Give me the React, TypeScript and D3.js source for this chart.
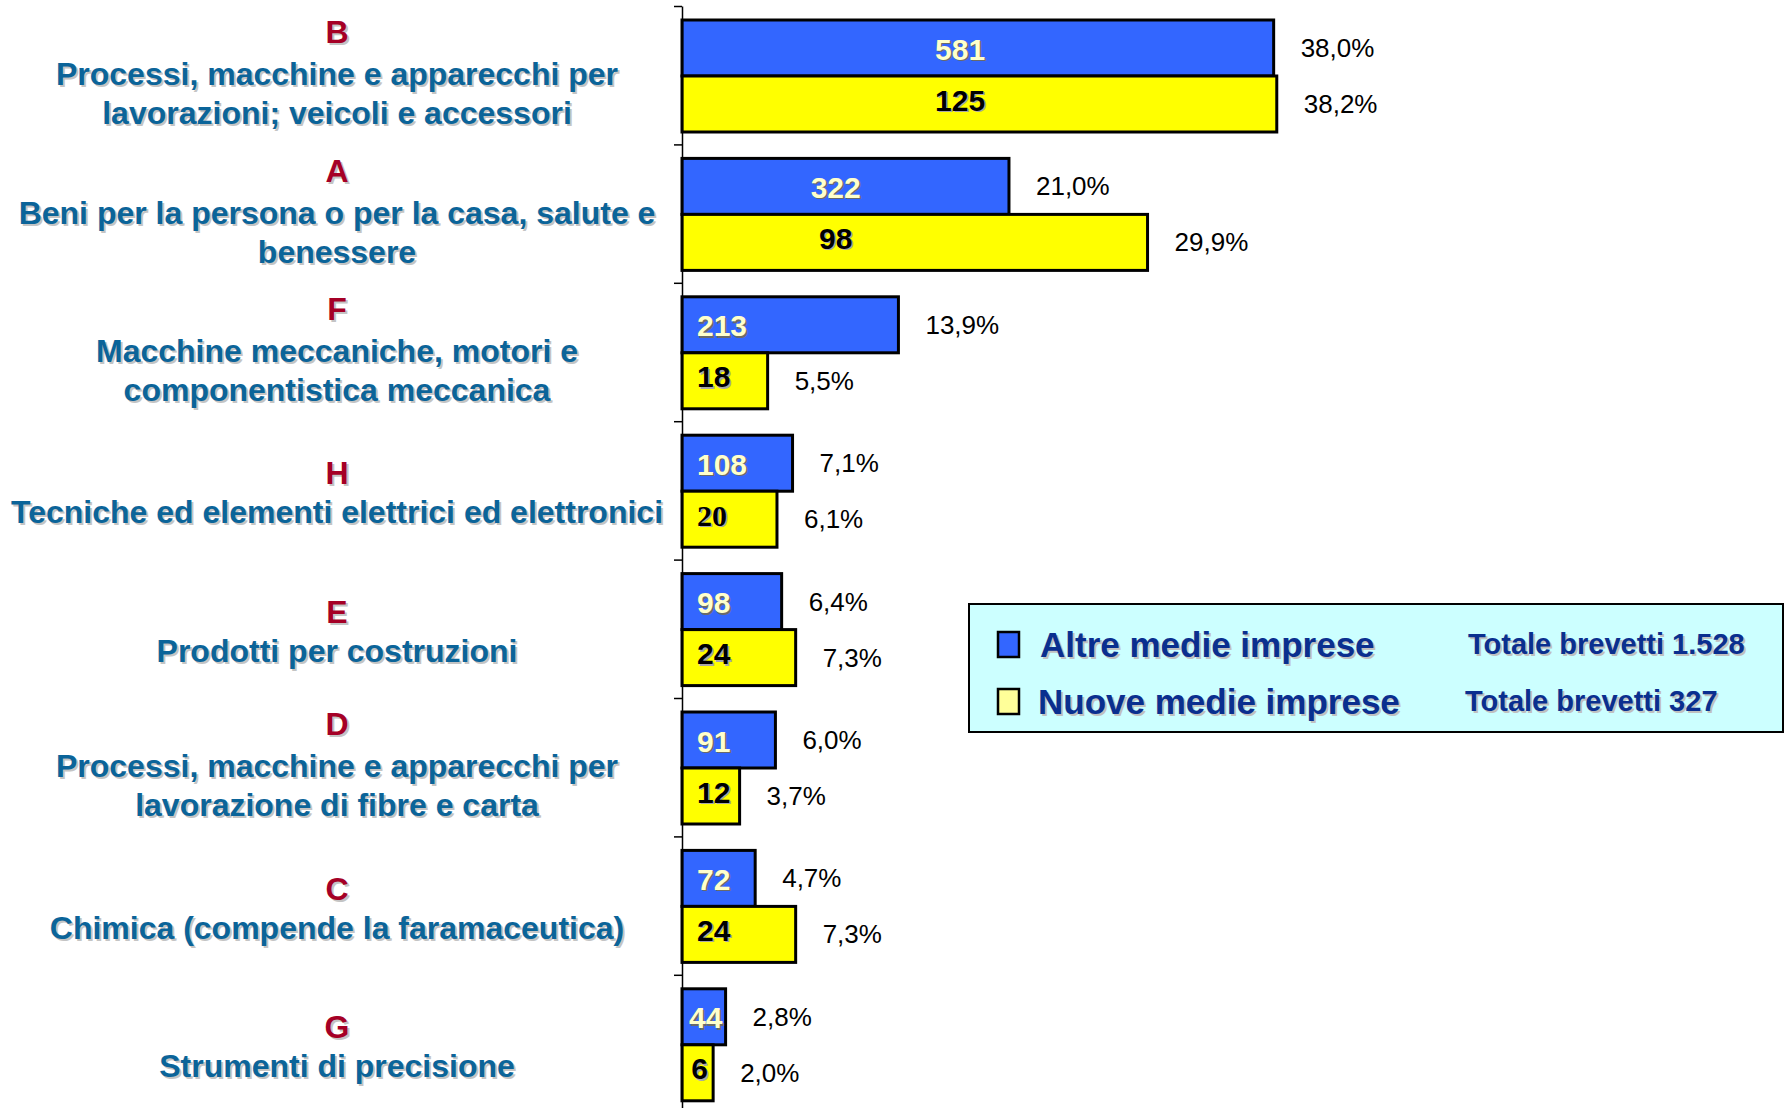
import React, { useEffect, useRef } from 'react';
import * as d3 from 'd3';

const categories = ['B', 'A', 'F', 'H', 'E', 'D', 'C', 'G'];
const categoryTitles = [
  ['Processi, macchine e apparecchi per', 'lavorazioni; veicoli e accessori'],
  ['Beni per la persona o per la casa, salute e', 'benessere'],
  ['Macchine meccaniche, motori e', 'componentistica meccanica'],
  ['Tecniche ed elementi elettrici ed elettronici'],
  ['Prodotti per costruzioni'],
  ['Processi, macchine e apparecchi per', 'lavorazione di fibre e carta'],
  ['Chimica (compende la faramaceutica)'],
  ['Strumenti di precisione'],
];
const altreCounts = [581, 322, 213, 108, 98, 91, 72, 44];
const altrePercent = [38.0, 21.0, 13.9, 7.1, 6.4, 6.0, 4.7, 2.8];
const nuoveCounts = [125, 98, 18, 20, 24, 12, 24, 6];
const nuovePercent = [38.2, 29.9, 5.5, 6.1, 7.3, 3.7, 7.3, 2.0];
const seriesKeys = ['altre', 'nuove'];
const seriesNames = ['Altre medie imprese', 'Nuove medie imprese'];
const seriesTotals = ['Totale brevetti 1.528', 'Totale brevetti 327'];

const W = 1785;
const H = 1108;
const BLUE = '#3366FF';
const YELLOW = '#FFFF00';
const SANS = '"Liberation Sans", Arial, sans-serif';
const SERIF = '"Liberation Serif", "Times New Roman", serif';

const fmtPct = (v: number) => d3.format('.1f')(v).replace('.', ',') + '%';

export default function App() {
  const axisRef = useRef<SVGGElement>(null);

  const x = d3.scaleLinear().domain([0, 40]).range([682, 682 + 40 * 15.57]);
  const y = d3.scaleBand<string>().domain(categories).range([6, 6 + 8 * 138.4]);
  const inner = d3.scaleBand<string>().domain(seriesKeys).range([14, 126]);
  const idx = d3.scaleLinear().domain([0, categories.length]).range(y.range() as [number, number]);

  useEffect(() => {
    if (!axisRef.current) return;
    const axis = d3
      .axisLeft(idx)
      .tickValues(d3.range(categories.length + 1))
      .tickSize(8)
      .tickSizeOuter(0)
      .tickFormat(() => '');
    const g = d3.select(axisRef.current);
    g.call(axis as any);
    g.selectAll('path,line').attr('stroke', '#000').attr('stroke-width', 1.5);
  }, []);

  const rows = categories.map((c, i) => ({
    cat: c,
    title: categoryTitles[i],
    bars: [
      { key: 'altre', count: altreCounts[i], pct: altrePercent[i] },
      { key: 'nuove', count: nuoveCounts[i], pct: nuovePercent[i] },
    ],
  }));

  const labelCx = 337;
  const valSize = 30;
  const digitW = valSize * 0.556;

  return (
    <svg width={W} height={H} style={{ position: 'absolute', left: 0, top: 0, background: '#fff' }}>
      {/* category labels */}
      {rows.map((r, i) => {
        const c = (y(r.cat) as number) + y.bandwidth() / 2;
        const lines = [r.cat, ...r.title];
        const offsets = lines.length === 3 ? [-43, -1, 38] : [-17, 22];
        return (
          <g key={'lab' + i}>
            {lines.map((t, j) => {
              const isLetter = j === 0;
              const fs = isLetter ? 32 : 32;
              const fill = isLetter ? '#A50026' : '#0B6499';
              return (
                <g key={j}>
                  <text x={labelCx + 2} y={c + offsets[j] + 2} textAnchor="middle" dominantBaseline="central"
                    fontFamily={SANS} fontWeight="bold" fontSize={fs} fill="#C4C4C4">{t}</text>
                  <text x={labelCx} y={c + offsets[j]} textAnchor="middle" dominantBaseline="central"
                    fontFamily={SANS} fontWeight="bold" fontSize={fs} fill={fill}>{t}</text>
                </g>
              );
            })}
          </g>
        );
      })}

      {/* bars */}
      {rows.map((r, i) => {
        const top = y(r.cat) as number;
        const blueLen = x(r.bars[0].pct) - x(0);
        const big = blueLen > 250;
        return (
          <g key={'bars' + i}>
            {r.bars.map((b, j) => {
              const by = top + (inner(b.key) as number);
              const bh = inner.bandwidth();
              const cy = by + bh / 2;
              const isBlue = j === 0;
              const len = x(b.pct) - x(0);
              const textW = String(b.count).length * digitW;
              let labX: number;
              let anchor: 'middle' | 'start';
              if (big) {
                labX = x(0) + blueLen * 0.47;
                anchor = 'middle';
              } else if (15 + textW + 4 > len) {
                labX = x(0) + len / 2 + 2;
                anchor = 'middle';
              } else {
                labX = x(0) + 15;
                anchor = 'start';
              }
              const valFont = r.cat === 'H' && !isBlue ? SERIF : SANS;
              const vy = cy + (isBlue ? 1 : -4);
              return (
                <g key={j}>
                  <rect x={x(0)} y={by} width={len} height={bh}
                    fill={isBlue ? BLUE : YELLOW} stroke="#000" strokeWidth={3} />
                  <text x={labX + 1.5} y={vy + 1.5} textAnchor={anchor} dominantBaseline="central"
                    fontFamily={valFont} fontWeight="bold" fontSize={valSize} fill={isBlue ? '#6a6a6a' : '#A8A8A8'}>{b.count}</text>
                  <text x={labX} y={vy} textAnchor={anchor} dominantBaseline="central"
                    fontFamily={valFont} fontWeight="bold" fontSize={valSize} fill={isBlue ? '#FFFFCC' : '#000'}>{b.count}</text>
                  <text x={x(b.pct) + 27} y={cy} dominantBaseline="central"
                    fontFamily={SANS} fontSize={26} fill="#000">{fmtPct(b.pct)}</text>
                </g>
              );
            })}
          </g>
        );
      })}

      <g ref={axisRef} transform={`translate(${x(0)},0)`} />

      {/* legend */}
      <g>
        <rect x={969} y={604} width={814} height={128} fill="#CCFFFF" stroke="#000" strokeWidth={2} />
        {seriesNames.map((name, j) => {
          const cy = j === 0 ? 644 : 701;
          return (
            <g key={'leg' + j}>
              <rect x={998} y={cy - 12} width={21} height={25} fill={j === 0 ? BLUE : '#FFFF99'} stroke="#000" strokeWidth={2.5} />
              <text x={(j === 0 ? 1040 : 1038) + 2} y={cy + 2} dominantBaseline="central" fontFamily={SANS} fontWeight="bold"
                fontSize={35} fill="#C0C0C0">{name}</text>
              <text x={j === 0 ? 1040 : 1038} y={cy} dominantBaseline="central" fontFamily={SANS} fontWeight="bold"
                fontSize={35} fill="#0A2F8F">{name}</text>
              <text x={(j === 0 ? 1468 : 1465) + 2} y={cy + 2} dominantBaseline="central" fontFamily={SANS} fontWeight="bold"
                fontSize={29} fill="#C0C0C0">{seriesTotals[j]}</text>
              <text x={j === 0 ? 1468 : 1465} y={cy} dominantBaseline="central" fontFamily={SANS} fontWeight="bold"
                fontSize={29} fill="#0A2F8F">{seriesTotals[j]}</text>
            </g>
          );
        })}
      </g>
    </svg>
  );
}
